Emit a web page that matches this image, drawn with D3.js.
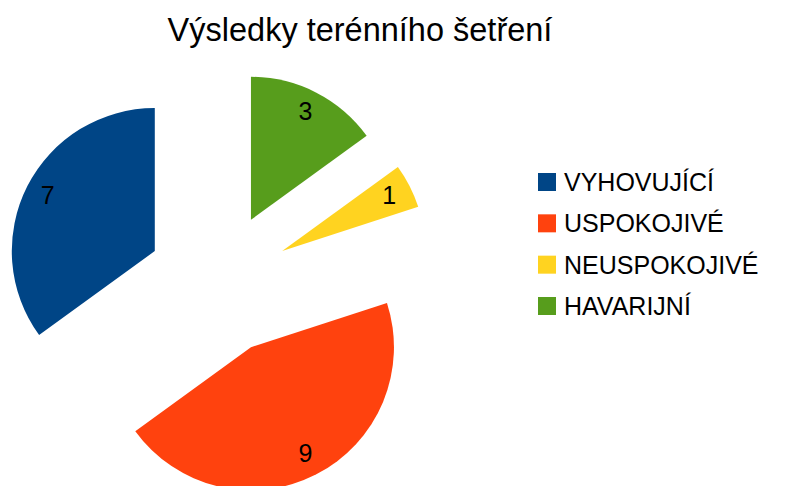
<!DOCTYPE html>
<html>
<head>
<meta charset="utf-8">
<script src="https://cdn.jsdelivr.net/npm/d3@7/dist/d3.min.js"></script>
<style>
  html, body { margin: 0; padding: 0; background: #fff; }
  svg { display: block; font-family: "Liberation Sans", Arial, sans-serif; }
</style>
</head>
<body>
<div id="chart"></div>
<script>
const categories = ['VYHOVUJÍCÍ', 'USPOKOJIVÉ', 'NEUSPOKOJIVÉ', 'HAVARIJNÍ'];
const values = [7, 9, 1, 3];
const colors = ['#004586', '#ff420e', '#ffd320', '#579d1c'];
const title = 'Výsledky terénního šetření';

const width = 792;
const height = 486;
const radius = 143;
const cx = 218.5, cy = 283.5;
const explode = radius * 0.5; // slices pulled out by half the radius

const svg = d3.select('#chart')
  .append('svg')
  .attr('width', width)
  .attr('height', height);

// Title
svg.append('text')
  .attr('x', 360)
  .attr('y', 41)
  .attr('text-anchor', 'middle')
  .attr('font-size', 32.5)
  .attr('fill', '#000')
  .text(title);

const color = d3.scaleOrdinal().domain(categories).range(colors);

// counter-clockwise from 12 o'clock, keep data order
const pie = d3.pie().sort(null).startAngle(0).endAngle(-2 * Math.PI);
const arcs = pie(values);

const arc = d3.arc().innerRadius(0).outerRadius(radius);

const g = svg.append('g').attr('transform', `translate(${cx},${cy})`);

const slice = g.selectAll('g.slice')
  .data(arcs)
  .enter()
  .append('g')
  .attr('class', 'slice')
  .attr('transform', d => {
    const a = (d.startAngle + d.endAngle) / 2;
    return `translate(${Math.sin(a) * explode},${-Math.cos(a) * explode})`;
  });

slice.append('path')
  .attr('d', arc)
  .attr('fill', (d, i) => color(categories[i]));

// value labels
const labelR = radius * 0.84;
slice.append('text')
  .attr('x', d => Math.sin((d.startAngle + d.endAngle) / 2) * labelR)
  .attr('y', d => -Math.cos((d.startAngle + d.endAngle) / 2) * labelR)
  .attr('dy', '0.3em')
  .attr('text-anchor', 'middle')
  .attr('font-size', 25)
  .attr('fill', '#000')
  .text(d => d.data);

// Legend
const legendY = d3.scalePoint()
  .domain(categories)
  .range([182, 306]);

const legend = svg.append('g')
  .selectAll('g')
  .data(categories)
  .enter()
  .append('g')
  .attr('transform', d => `translate(538,${legendY(d)})`);

legend.append('rect')
  .attr('x', 0)
  .attr('y', -9)
  .attr('width', 18)
  .attr('height', 18)
  .attr('fill', d => color(d));

legend.append('text')
  .attr('x', 26)
  .attr('y', 0)
  .attr('dy', '0.36em')
  .attr('font-size', 25)
  .attr('fill', '#000')
  .text(d => d);
</script>
</body>
</html>
